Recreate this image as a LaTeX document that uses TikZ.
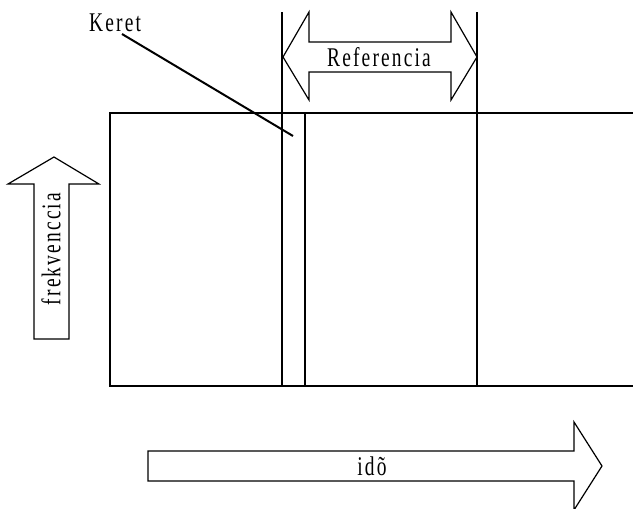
\documentclass[tikz,border=0pt]{standalone}
\usepackage{fontspec}
\setmainfont{Liberation Serif}[FakeStretch=0.72,LetterSpace=8]
\begin{document}
\begin{tikzpicture}[x=1pt,y=-1pt,
  ln/.style={line width=1.2pt,line join=miter},
  lbl/.style={font=\fontsize{27}{29}\selectfont,inner sep=0pt}]
\useasboundingbox (0,0) rectangle (633,509);
% frame
\draw[ln] (633,113) -- (110,113) -- (110,386) -- (633,386);
\draw[ln] (282,12) -- (282,386);
\draw[ln] (305,113) -- (305,386);
\draw[ln] (477,12) -- (477,386);
% double arrow Referencia
\draw[ln,fill=white] (283,57) -- (309,12) -- (309,42) -- (451,42) -- (451,12) -- (477,57)
  -- (451,100) -- (451,72) -- (309,72) -- (309,100) -- cycle;
\node[lbl] (ref) at (379,57) {Referencia};
% Keret
\node[lbl,anchor=base west] (keret) at (89,31) {Keret};
\coordinate (kstart) at (122,34);
\coordinate (kend) at (293,136);
\draw[line width=2pt] (kstart) -- (kend);
% frekvenccia arrow
\draw[ln,fill=white] (54,157) -- (99,184) -- (69,184) -- (69,339) -- (34,339) -- (34,184) -- (8,184) -- cycle;
\node[lbl,rotate=90] (frek) at (51,249) {frekvenccia};
% ido arrow
\draw[ln,fill=white] (148,451) -- (574,451) -- (574,422) -- (602,466) -- (574,510) -- (574,481) -- (148,481) -- cycle;
\node[lbl] (ido) at (372,466) {idõ};
\end{tikzpicture}
\end{document}
